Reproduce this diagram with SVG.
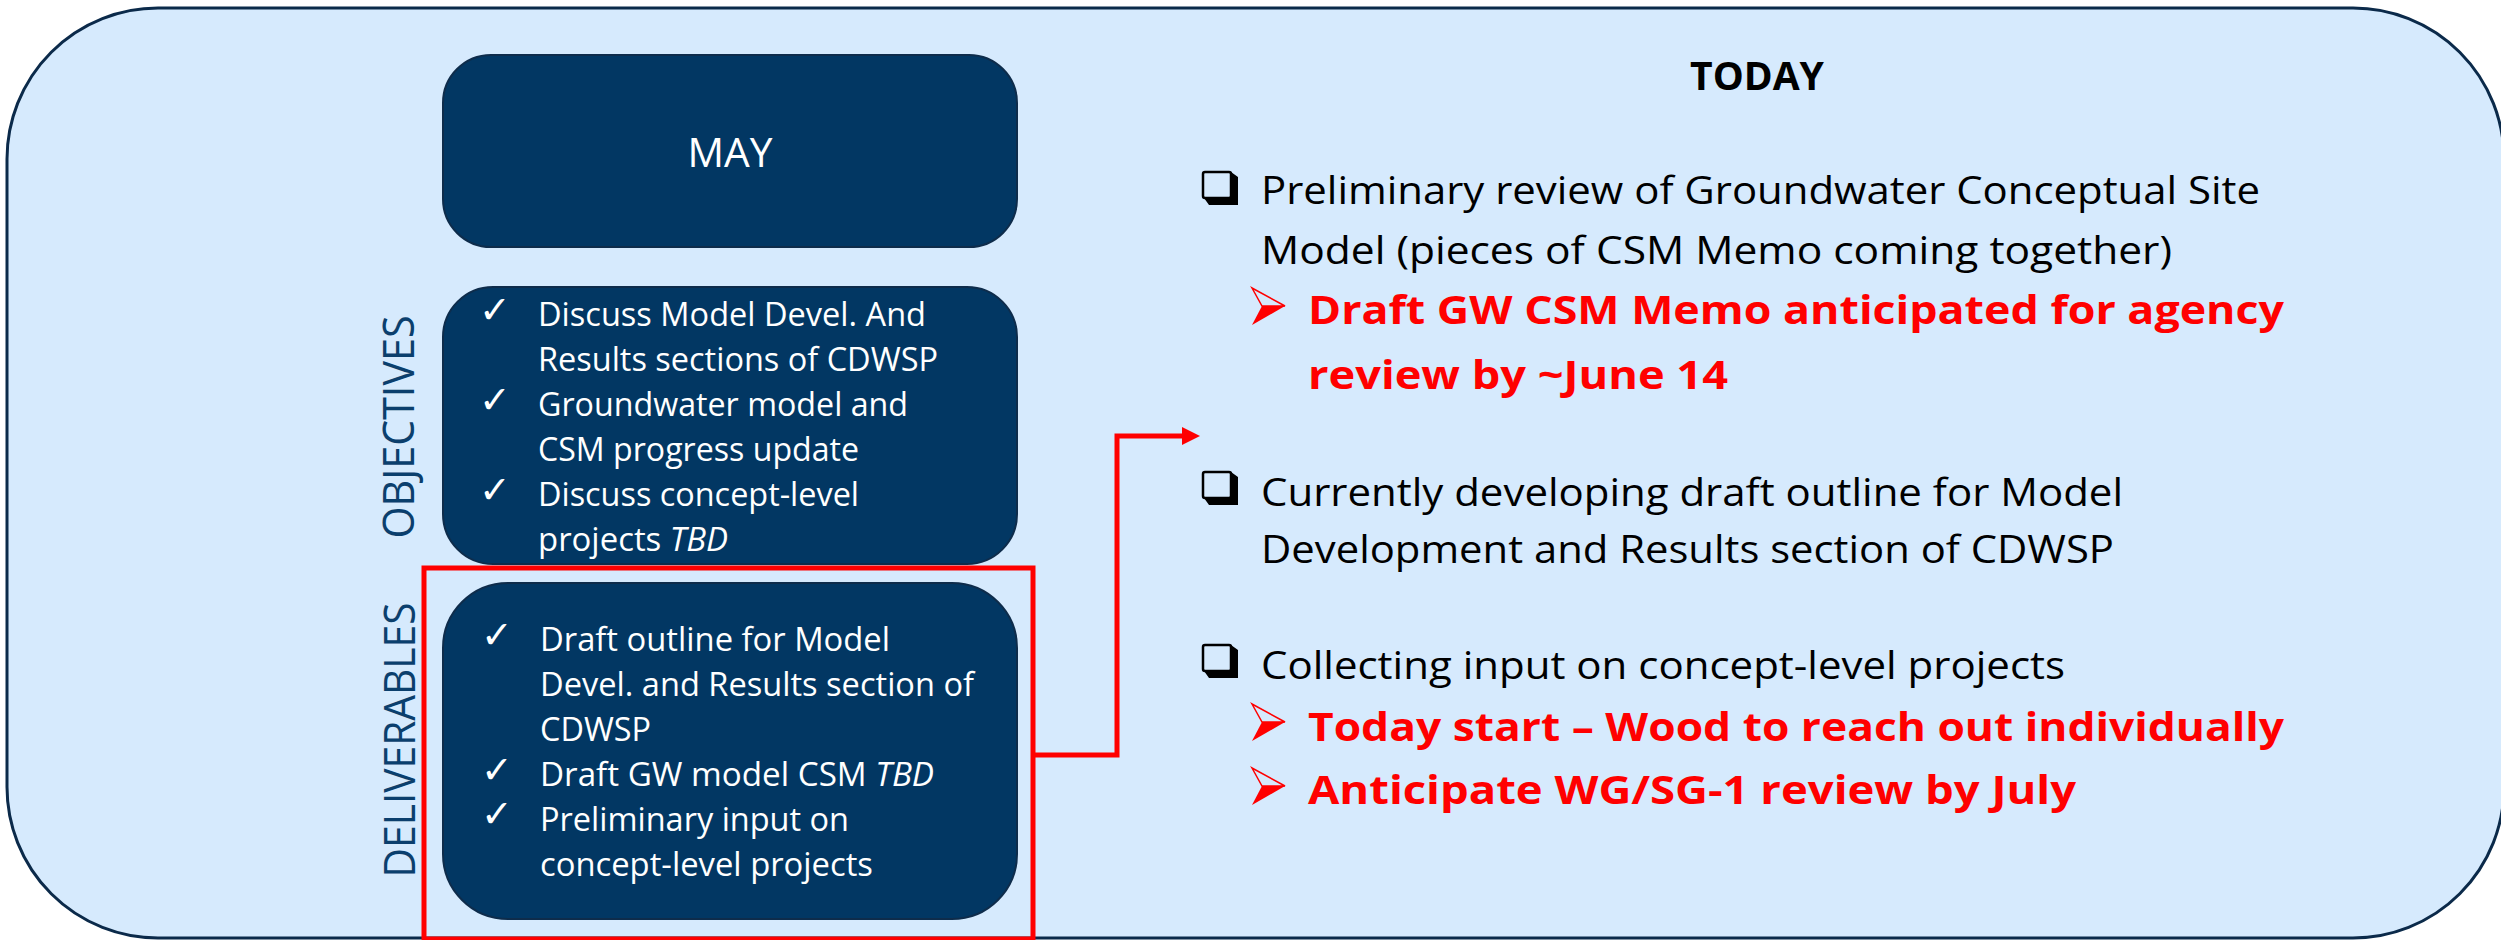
<svg xmlns="http://www.w3.org/2000/svg" width="2501" height="940" viewBox="0 0 2501 940">
<style>
.panel{fill:#D6EAFD;stroke:#0B2A4A;stroke-width:3}
.box{fill:#023763;stroke:#0E2C4B;stroke-width:2}
.bt{font-family:"Open Sans","DejaVu Sans",sans-serif;font-size:33px;fill:#FFFFFF}
.chk{font-family:"DejaVu Sans",sans-serif;font-size:38px;fill:#FFFFFF}
.vl{font-family:"Open Sans","DejaVu Sans",sans-serif;font-size:43px;fill:#0B3F6D;text-anchor:middle}
.rt{font-family:"Open Sans","DejaVu Sans",sans-serif;font-size:39px;fill:#000000}
.rr{font-family:"Open Sans","DejaVu Sans",sans-serif;font-size:39px;font-weight:bold;fill:#FF0000}
.conn{fill:none;stroke:#FF0000;stroke-width:5;stroke-linejoin:miter}
</style>
<defs>
<g id="cbox">
<rect x="0" y="0" width="28" height="26" rx="2" fill="none" stroke="#000" stroke-width="2.5"/>
<path d="M1,26 L6,33 L35,33 L35,5 L28,0 L28,26 Z" fill="#000"/>
</g>
<g id="arw">
<path d="M0,0 L33,18 L10,18 Z" fill="none" stroke="#FF0000" stroke-width="1.5" stroke-linejoin="miter"/>
<path d="M10,18 L33,18 L0,37 Z" fill="#FF0000"/>
</g>
</defs>

<g id="panel">
<rect class="panel" x="7" y="8" width="2497" height="930" rx="151" ry="151"/>
</g>

<g id="may">
<rect class="box" x="443" y="55" width="574" height="192" rx="48" ry="48"/>
<text x="730" y="167" text-anchor="middle" font-family="Open Sans, DejaVu Sans, sans-serif" font-size="41" fill="#FFFFFF" textLength="85" lengthAdjust="spacingAndGlyphs">MAY</text>
</g>

<g id="objectives-label">
<text class="vl" transform="translate(414,427) rotate(-90)" textLength="223" lengthAdjust="spacingAndGlyphs">OBJECTIVES</text>
</g>

<g id="objectives">
<rect class="box" x="443" y="287" width="574" height="277" rx="50" ry="50"/>
<text class="chk" x="479" y="323">✓</text>
<text class="chk" x="479" y="413">✓</text>
<text class="chk" x="479" y="503">✓</text>
<text class="bt" x="538" y="326" textLength="388" lengthAdjust="spacingAndGlyphs">Discuss Model Devel. And</text>
<text class="bt" x="538" y="371" textLength="400" lengthAdjust="spacingAndGlyphs">Results sections of CDWSP</text>
<text class="bt" x="538" y="416" textLength="370" lengthAdjust="spacingAndGlyphs">Groundwater model and</text>
<text class="bt" x="538" y="461" textLength="321" lengthAdjust="spacingAndGlyphs">CSM progress update</text>
<text class="bt" x="538" y="506" textLength="321" lengthAdjust="spacingAndGlyphs">Discuss concept-level</text>
<text class="bt" x="538" y="551" textLength="190" lengthAdjust="spacingAndGlyphs">projects <tspan font-style="italic">TBD</tspan></text>
</g>

<g id="deliverables-label">
<text class="vl" transform="translate(415,740) rotate(-90)" textLength="275" lengthAdjust="spacingAndGlyphs">DELIVERABLES</text>
</g>

<g id="deliverables">
<rect class="box" x="443" y="583" width="574" height="336" rx="65" ry="65"/>
<text class="chk" x="481" y="648">✓</text>
<text class="chk" x="481" y="783">✓</text>
<text class="chk" x="481" y="827">✓</text>
<text class="bt" x="540" y="651" textLength="350" lengthAdjust="spacingAndGlyphs">Draft outline for Model</text>
<text class="bt" x="540" y="696" textLength="434" lengthAdjust="spacingAndGlyphs">Devel. and Results section of</text>
<text class="bt" x="540" y="741" textLength="111" lengthAdjust="spacingAndGlyphs">CDWSP</text>
<text class="bt" x="540" y="786" textLength="394" lengthAdjust="spacingAndGlyphs">Draft GW model CSM <tspan font-style="italic">TBD</tspan></text>
<text class="bt" x="540" y="831" textLength="309" lengthAdjust="spacingAndGlyphs">Preliminary input on</text>
<text class="bt" x="540" y="876" textLength="333" lengthAdjust="spacingAndGlyphs">concept-level projects</text>
</g>

<g id="highlight">
<rect x="424" y="568" width="609" height="371" fill="none" stroke="#FF0000" stroke-width="5"/>
</g>

<g id="connectors">
<path class="conn" d="M1033,755 L1117,755 L1117,436 L1184,436"/>
<path d="M1182,427 L1200,436 L1182,445 Z" fill="#FF0000"/>
</g>

<g id="today">
<text x="1757" y="90" text-anchor="middle" font-family="Open Sans, DejaVu Sans, sans-serif" font-size="39" font-weight="bold" fill="#000" textLength="134" lengthAdjust="spacingAndGlyphs">TODAY</text>
</g>

<g id="item1">
<use href="#cbox" x="1203" y="172"/>
<text class="rt" x="1261" y="204" textLength="999" lengthAdjust="spacingAndGlyphs">Preliminary review of Groundwater Conceptual Site</text>
<text class="rt" x="1261" y="264" textLength="911" lengthAdjust="spacingAndGlyphs">Model (pieces of CSM Memo coming together)</text>
<use href="#arw" x="1252" y="288"/>
<text class="rr" x="1308" y="324" textLength="976" lengthAdjust="spacingAndGlyphs">Draft GW CSM Memo anticipated for agency</text>
<text class="rr" x="1308" y="389" textLength="420" lengthAdjust="spacingAndGlyphs">review by ~June 14</text>
</g>

<g id="item2">
<use href="#cbox" x="1203" y="472"/>
<text class="rt" x="1261" y="506" textLength="862" lengthAdjust="spacingAndGlyphs">Currently developing draft outline for Model</text>
<text class="rt" x="1261" y="563" textLength="853" lengthAdjust="spacingAndGlyphs">Development and Results section of CDWSP</text>
</g>

<g id="item3">
<use href="#cbox" x="1203" y="645"/>
<text class="rt" x="1261" y="679" textLength="804" lengthAdjust="spacingAndGlyphs">Collecting input on concept-level projects</text>
<use href="#arw" x="1252" y="704"/>
<text class="rr" x="1308" y="741" textLength="976" lengthAdjust="spacingAndGlyphs">Today start – Wood to reach out individually</text>
<use href="#arw" x="1252" y="768"/>
<text class="rr" x="1308" y="804" textLength="768" lengthAdjust="spacingAndGlyphs">Anticipate WG/SG-1 review by July</text>
</g>
</svg>
